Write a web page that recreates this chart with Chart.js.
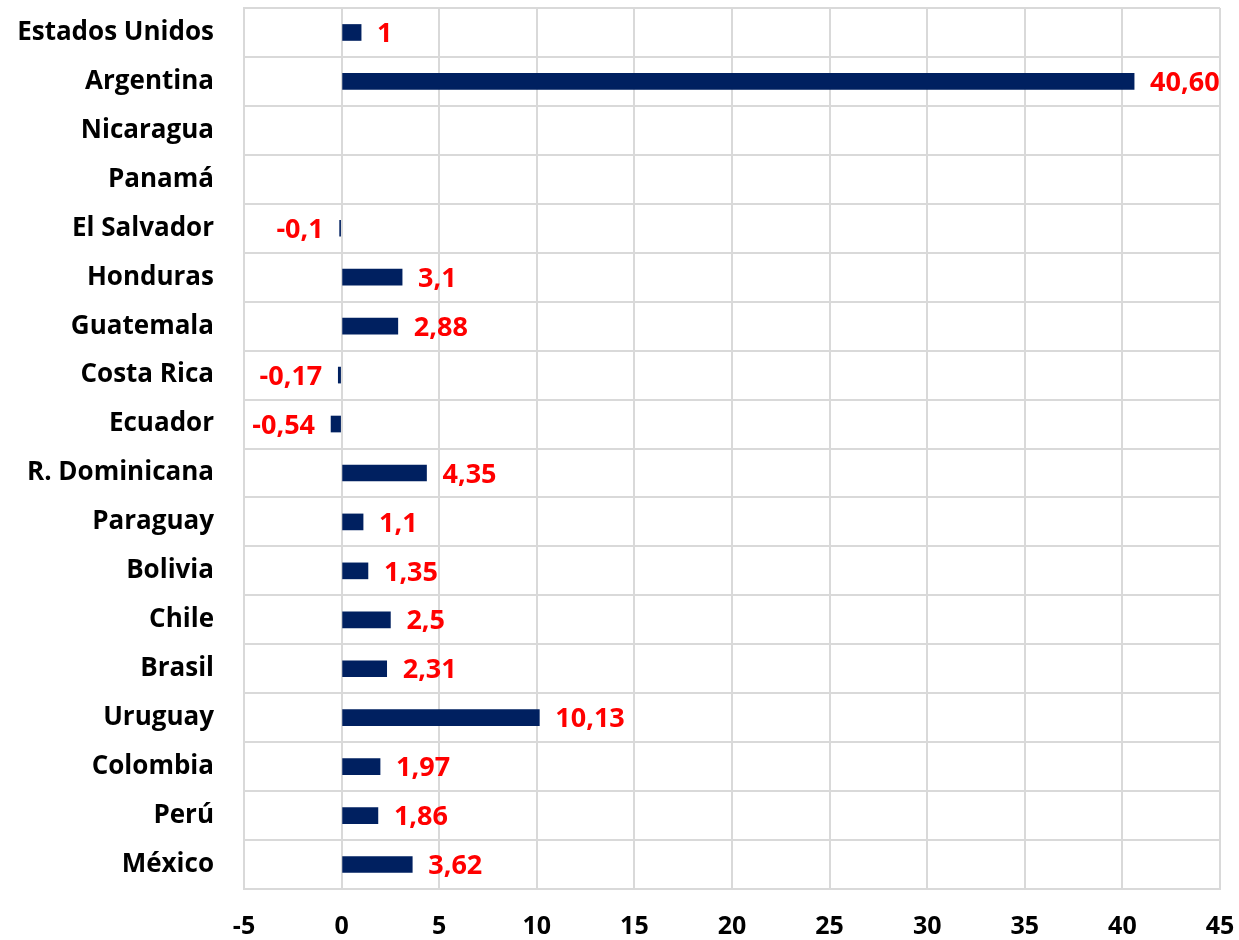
<!DOCTYPE html>
<html><head><meta charset="utf-8">
<script src="https://cdn.jsdelivr.net/npm/chart.js@4"></script>
<style>html,body{margin:0;padding:0;background:#fff}#wrap{width:1239px;height:940px}</style>
</head><body><div id="wrap"><canvas id="c" width="1239" height="940"></canvas></div>
<script>
const categories = ["Estados Unidos","Argentina","Nicaragua","Panamá","El Salvador","Honduras","Guatemala","Costa Rica","Ecuador","R. Dominicana","Paraguay","Bolivia","Chile","Brasil","Uruguay","Colombia","Perú","México"];
const values = [1, 40.6, null, null, -0.1, 3.1, 2.88, -0.17, -0.54, 4.35, 1.1, 1.35, 2.5, 2.31, 10.13, 1.97, 1.86, 3.62];
const valueLabels = ["1","40,60","","","-0,1","3,1","2,88","-0,17","-0,54","4,35","1,1","1,35","2,5","2,31","10,13","1,97","1,86","3,62"];
const xTicks = [-5,0,5,10,15,20,25,30,35,40,45];

const FONT = "'Open Sans', sans-serif";
const labelPlugin = {
  id: 'valLabels',
  afterDatasetsDraw(chart) {
    const ctx = chart.ctx;
    const meta = chart.getDatasetMeta(0);
    ctx.save();
    ctx.font = "bold 27px " + FONT;
    ctx.fillStyle = "#ff0000";
    ctx.textBaseline = "middle";
    meta.data.forEach((bar, i) => {
      const t = valueLabels[i];
      if (!t || values[i] === null) return;
      if (values[i] >= 0) { ctx.textAlign = "left"; ctx.fillText(t, bar.x + 16, bar.y + 2); }
      else { ctx.textAlign = "right"; ctx.fillText(t, bar.x - 16, bar.y + 2); }
    });
    ctx.restore();
  }
};

new Chart(document.getElementById('c'), {
  type: 'bar',
  data: { labels: categories, datasets: [{ data: values, backgroundColor: '#002060', barThickness: 16 }] },
  options: {
    indexAxis: 'y', responsive: false, animation: false,
    layout: { padding: { top: 8, right: 19, left: 0, bottom: 0 } },
    plugins: { legend: { display: false }, tooltip: { enabled: false } },
    scales: {
      x: {
        min: -5, max: 45,
        afterBuildTicks(ax) { ax.ticks = xTicks.map(v => ({ value: v })); },
        afterFit(ax) { ax.height = 51; ax.paddingLeft = 0; ax.paddingRight = 0; },
        grid: { color: '#d9d9d9', lineWidth: 2, drawTicks: false },
        border: { color: '#d9d9d9', width: 2 },
        ticks: { color: '#000', font: { family: FONT, size: 25, weight: 'bold' }, padding: 23 }
      },
      y: {
        afterFit(ax) { ax.width = 244; ax.paddingTop = 0; ax.paddingBottom = 0; },
        grid: { color: '#d9d9d9', lineWidth: 2, drawTicks: false, offset: true },
        border: { color: '#d9d9d9', width: 2 },
        ticks: { color: '#000', font: { family: FONT, size: 26, weight: 'bold' }, padding: 30 }
      }
    }
  },
  plugins: [labelPlugin]
});
</script></body></html>
